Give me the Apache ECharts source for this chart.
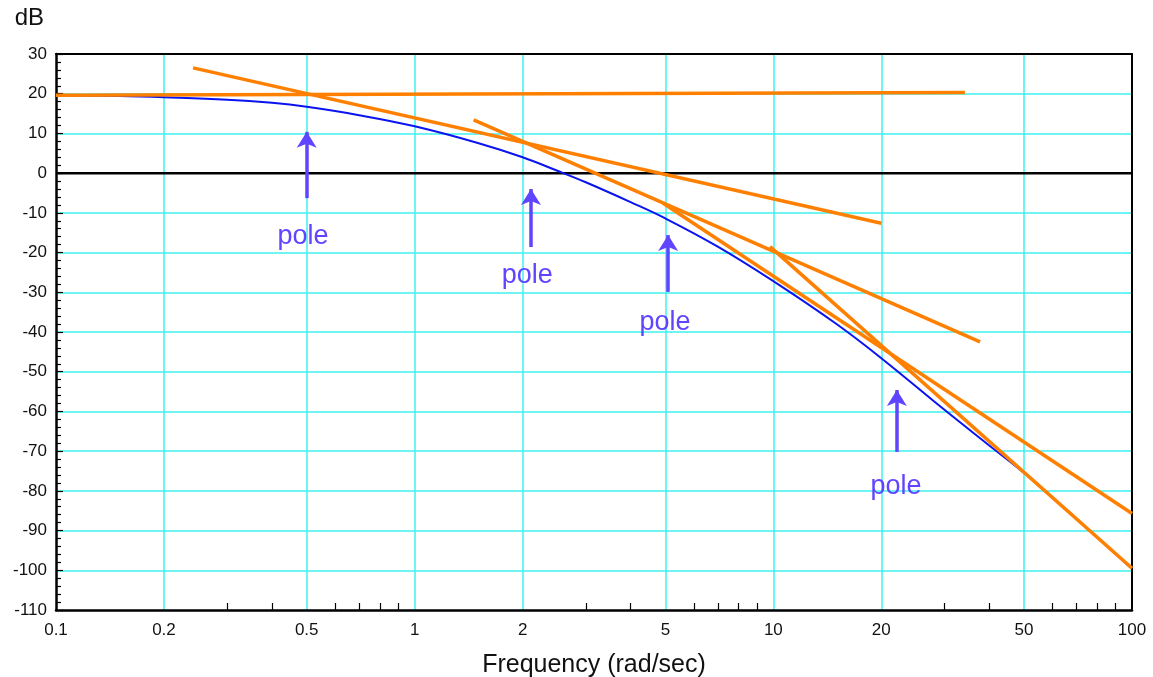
<!DOCTYPE html>
<html><head><meta charset="utf-8">
<script src="https://cdn.jsdelivr.net/npm/echarts@6/dist/echarts.min.js"></script>
<style>html,body{margin:0;padding:0;background:#fff}#c{width:1153px;height:677px}</style>
</head><body><div id="c"></div>
<script>
// ---- data ----
const xGridValues = [0.1, 0.2, 0.5, 1, 2, 5, 10, 20, 50, 100];
const xMinorTicks = [0.3, 0.4, 0.6, 0.7, 0.8, 0.9, 3, 4, 6, 7, 8, 9, 30, 40, 60, 70, 80, 90];

const blueFreq = [0.1, 0.15, 0.2, 0.3, 0.4, 0.5, 0.7, 1, 1.5, 2, 2.5, 3, 4, 5, 7, 10, 15, 20, 30, 40, 50, 70, 100];
const blueDb   = [19.6, 19.4, 19.1, 18.5, 17.7, 16.7, 14.6, 11.8, 7.6, 4.0, 0.6, -2.3, -7.3, -11.4, -18.5, -27.2, -38.0, -46.6, -59.6, -68.6, -75.5, -87.0, -99.6];

// orange: straight-line asymptotes [start, end] as [freq, dB]
const asym1 = [[0.1, 19.6], [34.2, 20.3]];
const asym2 = [[0.241, 26.5], [20, -12.6]];
const asym3 = [[1.46, 13.4], [37.7, -42.5]];
const asym4 = [[4.93, -7.6], [100, -85.7]];
const asym5 = [[9.79, -18.5], [100, -99.5]];

const zeroLine = [[0.1, 0], [100, 0]];

// pole arrows: frequency, tail dB, tip dB ; labels: freq, dB
const poleArrowFreq = [0.5, 2.11, 5.09, 22.1];
const poleArrowTail = [-6.3, -18.6, -29.9, -70.2];
const poleArrowTip  = [10.4, -4.0, -15.6, -54.6];
const poleLabelPos  = [[0.488, -16.0], [2.06, -25.8], [4.99, -37.6], [21.98, -78.8]];
const poleText = 'pole';

// ---- chart ----
const FONT = '"Liberation Sans", Arial, Helvetica, sans-serif';
const chart = echarts.init(document.getElementById('c'), null, {renderer: 'canvas'});
const orange = '#ff8000';
const purple = '#5f45ff';
const cyan = '#3ff0f0';

function asymSeries(d) {
  return {type: 'line', data: d, symbol: 'none', z: 5, animation: false,
    lineStyle: {color: orange, width: 3.5}, silent: true};
}

const option = {
  animation: false,
  grid: {left: 56, right: 21, top: 54, bottom: 67, containLabel: false, outerBoundsMode: 'none',
    show: false},
  xAxis: [{
    type: 'log', logBase: 10, min: 0.1, max: 100,
    axisLine: {show: true, onZero: false, lineStyle: {color: '#000', width: 2.5}},
    axisTick: {show: false, customValues: xGridValues},
    axisLabel: {customValues: xGridValues, color: '#111', fontSize: 17, fontFamily: FONT, margin: 12,
      formatter: v => String(parseFloat(Number(v).toPrecision(3)))},
    splitLine: {show: true, showMinLine: false, showMaxLine: false, lineStyle: {color: cyan, width: 1.5}},
    name: 'Frequency (rad/sec)', nameLocation: 'middle', nameGap: 43,
    nameTextStyle: {color: '#111', fontSize: 25, fontFamily: FONT}
  }, {
    type: 'log', logBase: 10, min: 0.1, max: 100, position: 'bottom',
    axisLine: {show: false, onZero: false},
    axisTick: {show: true, inside: true, length: 7, customValues: xMinorTicks, lineStyle: {color: '#000', width: 1.2}},
    axisLabel: {show: false},
    splitLine: {show: false}
  }, {
    type: 'log', logBase: 10, min: 0.1, max: 100, position: 'top',
    axisLine: {show: true, onZero: false, lineStyle: {color: '#000', width: 2}},
    axisTick: {show: false}, axisLabel: {show: false}, splitLine: {show: false}
  }],
  yAxis: [{
    type: 'value', min: -110, max: 30, interval: 10,
    axisLine: {show: true, onZero: false, lineStyle: {color: '#000', width: 2.5}},
    axisTick: {show: true, inside: true, length: 7, lineStyle: {color: '#000', width: 1.2}},
    minorTick: {show: true, splitNumber: 5, length: 5, lineStyle: {color: '#000', width: 1.2}},
    axisLabel: {color: '#111', fontSize: 17, fontFamily: FONT, margin: 9},
    splitLine: {show: true, showMinLine: false, showMaxLine: false, lineStyle: {color: cyan, width: 1.5}},
    name: 'dB', nameLocation: 'end', nameGap: 24,
    nameTextStyle: {color: '#111', fontSize: 24, fontFamily: FONT, align: 'right', padding: [0, 12, 0, 0]}
  }, {
    type: 'value', min: -110, max: 30, interval: 10, position: 'right',
    axisLine: {show: true, onZero: false, lineStyle: {color: '#000', width: 2}},
    axisTick: {show: false}, axisLabel: {show: false}, splitLine: {show: false}
  }],
  series: [
    {type: 'line', data: zeroLine, symbol: 'none', z: 3, lineStyle: {color: '#000', width: 2.5}, silent: true},
    {type: 'line', data: blueFreq.map((f, i) => [f, blueDb[i]]), symbol: 'none', smooth: 0.4, z: 4,
      lineStyle: {color: '#0a14f0', width: 2}, silent: true},
    asymSeries(asym1), asymSeries(asym2), asymSeries(asym3), asymSeries(asym4), asymSeries(asym5),
    {type: 'scatter', data: poleLabelPos, symbolSize: 1, z: 8, silent: true,
      itemStyle: {opacity: 0},
      label: {show: true, position: 'inside', formatter: poleText, color: purple, fontSize: 27, fontFamily: FONT,
        opacity: 1, textBorderWidth: 0}},
    {type: 'line', data: [], z: 9, silent: true,
      markLine: {silent: true, animation: false, symbol: ['none', 'arrow'], symbolSize: [15, 16],
        lineStyle: {color: purple, width: 3.5, type: 'solid'}, label: {show: false},
        data: poleArrowFreq.map((f, i) => [{coord: [f, poleArrowTail[i]]}, {coord: [f, poleArrowTip[i]]}])}}
  ]
};
chart.setOption(option);
</script>
</body></html>
